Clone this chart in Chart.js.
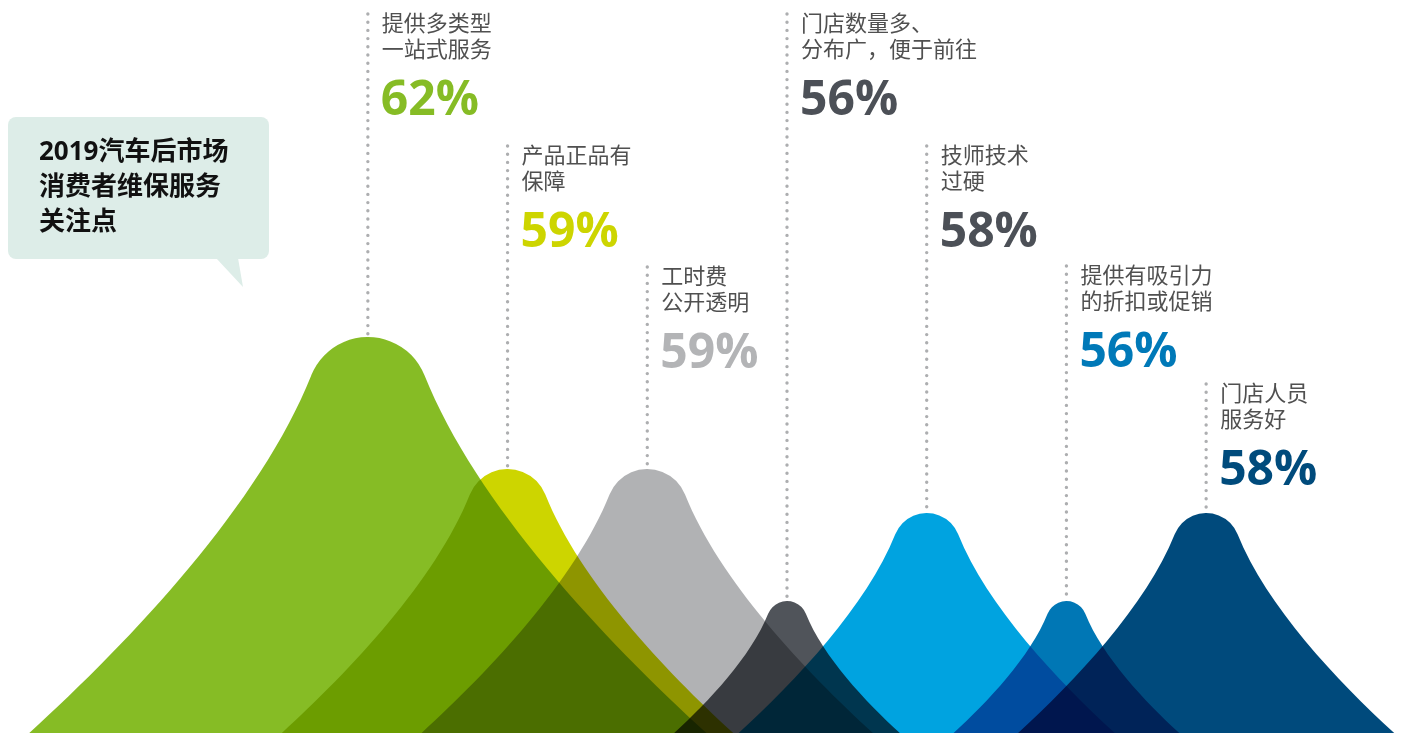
<!DOCTYPE html>
<html lang="zh-CN">
<head>
<meta charset="UTF-8">
<title>2019汽车后市场消费者维保服务关注点</title>
<script src="https://cdn.jsdelivr.net/npm/chart.js@4"></script>
<style>
    html,
    body {
        margin: 0;
        padding: 0;
        background: #fff;
    }

    .chart-wrap {
        position: relative;
        width: 1416px;
        height: 733px;
    }
</style>
</head>
<body>

<div class="chart-wrap">
    <canvas id="concernChart"></canvas>
</div>

<script>
/* ====================================
   DATA
==================================== */

const titleLines = [
    "2019汽车后市场",
    "消费者维保服务",
    "关注点"
];

const concernLines = [
    ["提供多类型", "一站式服务"],
    ["产品正品有", "保障"],
    ["工时费", "公开透明"],
    ["门店数量多、", "分布广，便于前往"],
    ["技师技术", "过硬"],
    ["提供有吸引力", "的折扣或促销"],
    ["门店人员", "服务好"]
];

const shares = [62, 59, 59, 56, 58, 56, 58];

/* ====================================
   STYLE
==================================== */

const peakColors = [
    "#86bc25",
    "#cdd500",
    "#b1b2b4",
    "#50545a",
    "#00a3e0",
    "#0077b5",
    "#004a7c"
];

const valueColors = [
    "#86bc25",
    "#cdd500",
    "#b3b4b6",
    "#4c5057",
    "#4c5057",
    "#0079b8",
    "#004b7c"
];

// y of the first caption line above each peak
const captionLevels = [23, 155, 276, 23, 155, 275, 393];

const CJK = "'Noto Sans CJK SC', sans-serif";

/* ====================================
   PEAK SHAPE
==================================== */

// bell outline, units of peak height: round cap + flared skirt
function drawPeak(ctx, cx, top, base, color) {

    const h = base - top;
    const r = 0.154 * h;
    const a = 68.2 * Math.PI / 180;

    const px = u => cx + u * h;
    const py = v => base - v * h;

    ctx.beginPath();
    ctx.moveTo(px(-0.855), py(0));
    ctx.bezierCurveTo(
        px(-0.596), py(0.236),
        px(-0.273), py(0.578),
        px(-0.143), py(0.903)
    );
    ctx.arc(cx, top + r, r, -Math.PI / 2 - a, -Math.PI / 2 + a, false);
    ctx.bezierCurveTo(
        px(0.273), py(0.578),
        px(0.596), py(0.236),
        px(0.855), py(0)
    );
    ctx.closePath();
    ctx.fillStyle = color;
    ctx.fill();

}

/* ====================================
   PLUGINS
==================================== */

const whiteBackground = {
    id: "whiteBackground",
    beforeDraw(chart) {
        const ctx = chart.ctx;
        ctx.save();
        ctx.fillStyle = "#fff";
        ctx.fillRect(0, 0, chart.width, chart.height);
        ctx.restore();
    }
};

const peaksPlugin = {
    id: "peaks",
    afterDatasetsDraw(chart) {

        const ctx = chart.ctx;
        const bars = chart.getDatasetMeta(0).data;
        const yScale = chart.scales.y;
        const floor = yScale.getPixelForValue(yScale.min);

        ctx.save();
        ctx.globalCompositeOperation = "multiply";
        bars.forEach((bar, i) => {
            drawPeak(ctx, bar.x, bar.y, floor, peakColors[i]);
        });
        ctx.restore();

        // dotted leaders and captions
        ctx.save();
        bars.forEach((bar, i) => {

            const level = captionLevels[i];
            const tx = bar.x + 14;

            ctx.beginPath();
            ctx.setLineDash([0, 8.2]);
            ctx.lineCap = "round";
            ctx.lineWidth = 3.4;
            ctx.strokeStyle = "#adaeb0";
            ctx.moveTo(bar.x, level - 9);
            ctx.lineTo(bar.x, bar.y + 1);
            ctx.stroke();

            ctx.setLineDash([]);
            ctx.fillStyle = "#505050";
            ctx.font = "22px " + CJK;
            ctx.textAlign = "left";
            ctx.textBaseline = "middle";
            concernLines[i].forEach((line, j) => {
                ctx.fillText(line, tx, level + j * 26);
            });

            ctx.fillStyle = valueColors[i];
            ctx.font = "bold 48px 'Open Sans', sans-serif";
            ctx.textBaseline = "alphabetic";
            ctx.fillText(shares[i] + "%", tx - 1, level + 92);

        });
        ctx.restore();

    }
};

const calloutPlugin = {
    id: "callout",
    afterDraw(chart) {

        const ctx = chart.ctx;

        ctx.save();
        ctx.fillStyle = "#ddede8";
        ctx.beginPath();
        ctx.roundRect(8, 117, 261, 142, 8);
        ctx.fill();

        ctx.beginPath();
        ctx.moveTo(216, 258);
        ctx.lineTo(238, 258);
        ctx.lineTo(243, 287);
        ctx.closePath();
        ctx.fill();

        ctx.fillStyle = "#111";
        ctx.font = "bold 26px 'Open Sans', " + CJK;
        ctx.textAlign = "left";
        ctx.textBaseline = "middle";
        titleLines.forEach((line, i) => {
            ctx.fillText(line, 39, 153 + i * 35);
        });
        ctx.restore();

    }
};

/* ====================================
   CHART
==================================== */

function createConcernChart() {

    const canvas = document.getElementById("concernChart");

    if (!canvas) return;

    new Chart(canvas, {

        type: "bar",

        data: {
            labels: concernLines.map(lines => lines.join("")),
            datasets: [{
                data: shares,
                backgroundColor: "rgba(0,0,0,0)",
                borderWidth: 0
            }]
        },

        options: {
            responsive: true,
            maintainAspectRatio: false,
            animation: false,
            layout: {
                padding: { left: 298, right: 140, top: 0, bottom: 0 }
            },
            plugins: {
                legend: { display: false },
                tooltip: { enabled: false }
            },
            scales: {
                x: { display: false },
                y: { display: false, min: 53, max: 69.66 }
            }
        },

        plugins: [whiteBackground, peaksPlugin, calloutPlugin]

    });

}

document.addEventListener("DOMContentLoaded", () => {

    createConcernChart();

});
</script>
</body>
</html>
